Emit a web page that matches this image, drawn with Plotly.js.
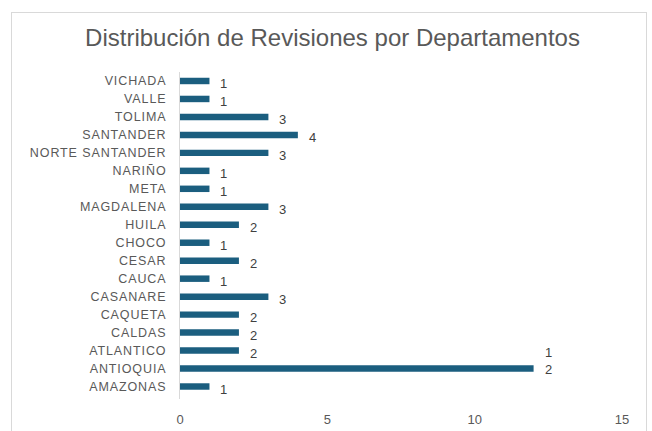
<!DOCTYPE html>
<html>
<head>
<meta charset="utf-8">
<script src="https://cdn.plot.ly/plotly-3.0.1.min.js"></script>
<style>
html,body{margin:0;padding:0;background:#fff;overflow:hidden;}
#wrap{position:relative;width:652px;height:431px;}
#chart{position:absolute;left:0;top:0;width:652px;height:431px;}
#frame{position:absolute;left:11px;top:12px;width:636px;height:430px;border:1px solid #d9d9d9;box-sizing:border-box;pointer-events:none;}
#chart .ytick text{letter-spacing:0.9px;}
</style>
</head>
<body>
<div id="wrap"><div id="chart"></div><div id="frame"></div></div>
<script>
const departamentos = ["AMAZONAS","ANTIOQUIA","ATLANTICO","CALDAS","CAQUETA","CASANARE","CAUCA","CESAR","CHOCO","HUILA","MAGDALENA","META","NARIÑO","NORTE SANTANDER","SANTANDER","TOLIMA","VALLE","VICHADA"];
const revisiones = [1,12,2,2,2,3,1,2,1,2,3,1,1,3,4,3,1,1];
const xTicks = [0,5,10,15];

const labelFont = {family:"Liberation Sans, Arial, sans-serif", size:13, color:"#404040"};
const annotations = departamentos.map((d,i) => {
  const s = String(revisiones[i]);
  const multi = s.length > 1;
  return {
    x: revisiones[i], y: d, xref:'x', yref:'y',
    text: multi ? s.split('').join('<br>') : s,
    showarrow:false, xanchor:'left', yanchor:'middle',
    xshift: 9, yshift: multi ? 8 : -3,
    font: labelFont, align:'left'
  };
});

const trace = {
  type:'bar', orientation:'h',
  x: revisiones, y: departamentos,
  marker:{color:'#1B5E7F'},
  hoverinfo:'none'
};

const layout = {
  width:652, height:431,
  margin:{l:180, r:30, t:72, b:32},
  paper_bgcolor:'#fff', plot_bgcolor:'#fff',
  title:{text:'Distribución de Revisiones por Departamentos', x:0.51, xanchor:'center', y:0.912, yanchor:'middle',
    font:{family:'Liberation Sans, Arial, sans-serif', size:24, color:'#595959'}},
  bargap:0.64,
  showlegend:false,
  xaxis:{range:[0,15], tickvals:xTicks, ticktext:xTicks.map(String), showgrid:false, zeroline:false, showline:false,
    ticks:'', ticklabelstandoff:11, tickfont:{family:'Liberation Sans, Arial, sans-serif', size:13, color:'#595959'}, fixedrange:true},
  yaxis:{type:'category', categoryorder:'array', categoryarray:departamentos, showgrid:false, zeroline:false,
    showline:true, linecolor:'#d9d9d9', linewidth:1, ticks:'', ticklabelstandoff:10,
    tickfont:{family:'Liberation Sans, Arial, sans-serif', size:12.5, color:'#595959'}, fixedrange:true},
  annotations: annotations
};

Plotly.newPlot('chart',[trace],layout,{displayModeBar:false, staticPlot:true});
</script>
</body>
</html>
